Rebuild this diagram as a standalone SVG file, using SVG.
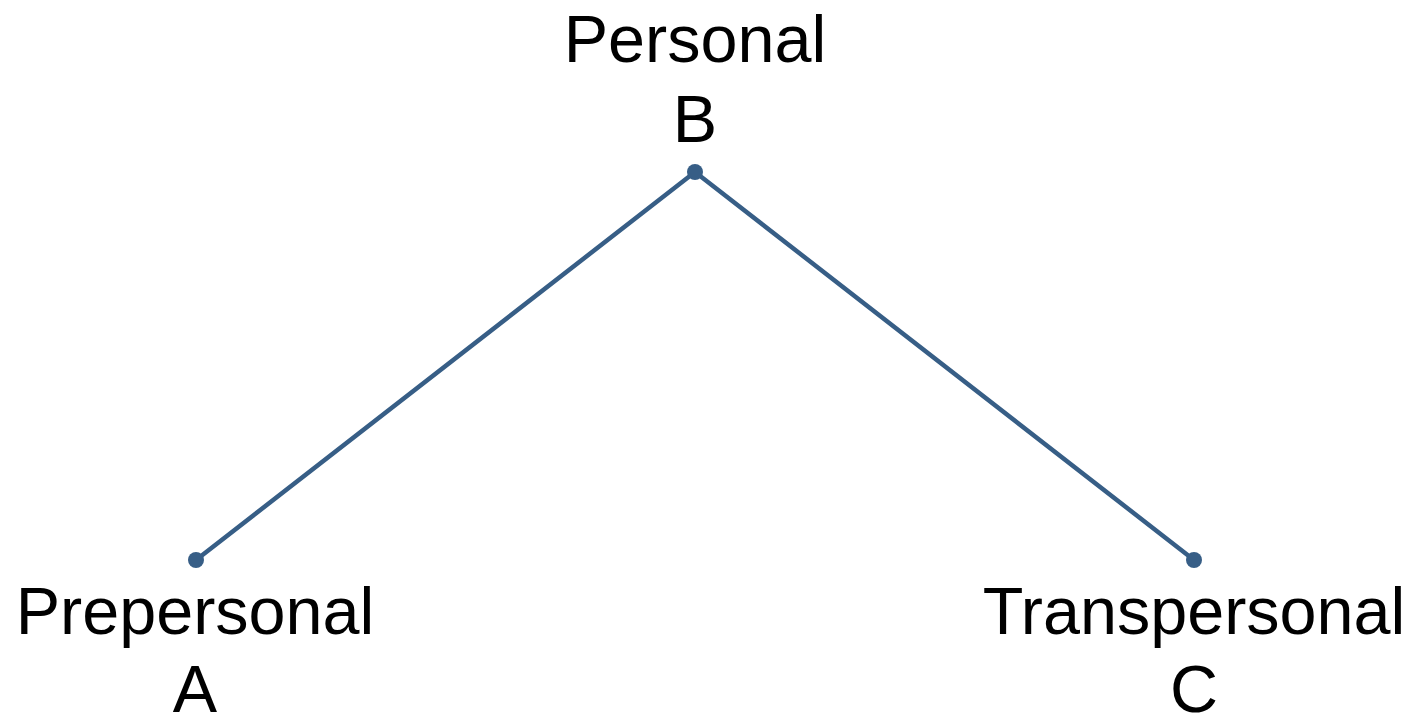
<svg xmlns="http://www.w3.org/2000/svg" width="1411" height="716" viewBox="0 0 1411 716">
<style>
.lbl{font-family:"Liberation Sans",Arial,sans-serif;font-size:66.5px;fill:#000;text-anchor:middle}
.edge{stroke:#375e86;stroke-width:4.5;fill:none;stroke-linecap:round}
.dot{fill:#375e86}
</style>
<rect width="1411" height="716" fill="#fff"/>
<g id="connectors">
<line class="edge" x1="695" y1="172" x2="196" y2="560"/>
<line class="edge" x1="695" y1="172" x2="1194" y2="560"/>
</g>
<g id="node-B">
<circle class="dot" cx="695" cy="172" r="8"/>
<text class="lbl" x="695" y="62">Personal</text>
<text class="lbl" x="695" y="142">B</text>
</g>
<g id="node-A">
<circle class="dot" cx="196" cy="560" r="8"/>
<text class="lbl" x="195" y="634">Prepersonal</text>
<text class="lbl" x="195" y="712">A</text>
</g>
<g id="node-C">
<circle class="dot" cx="1194" cy="560" r="8"/>
<text class="lbl" x="1194" y="634">Transpersonal</text>
<text class="lbl" x="1194" y="712">C</text>
</g>
</svg>
